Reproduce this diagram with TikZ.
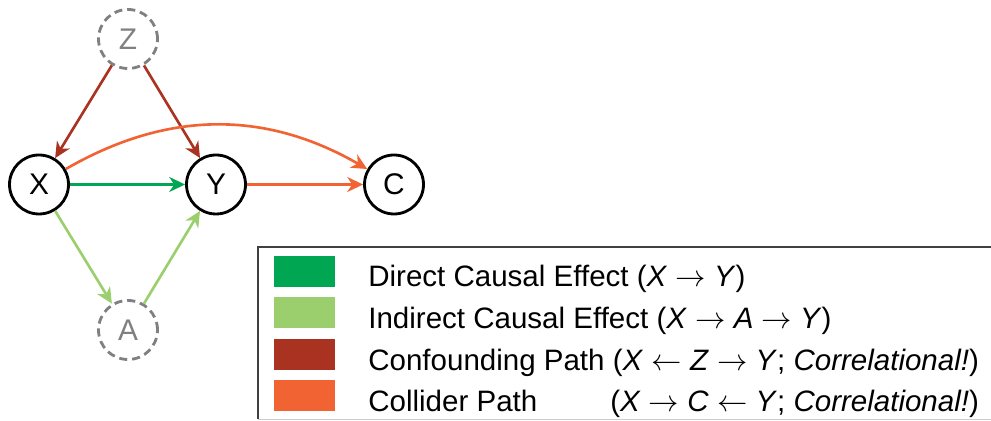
\documentclass[tikz,border=0pt]{standalone}
\usepackage{fontspec}
\setmainfont{Liberation Sans}
\usetikzlibrary{arrows.meta}

\definecolor{directgreen}{HTML}{00A651}
\definecolor{indirectgreen}{HTML}{9BCF6E}
\definecolor{confoundred}{HTML}{A93320}
\definecolor{colliderorange}{HTML}{F26334}

\begin{document}
\begin{tikzpicture}[x=0.02cm,y=0.02cm,
	var/.style={circle,draw,line width=1.6pt,minimum size=1.18cm,inner sep=0pt,
		font=\fontsize{17}{20}\selectfont},
	latent/.style={var,draw=gray,text=gray,dash pattern=on 4.6pt off 2.8pt},
	edge/.style={line width=1.5pt,-{Stealth[length=9pt,width=8.5pt,inset=2.8pt]}},
	swatch/.style={rectangle,minimum width=1.22cm,minimum height=0.62cm,inner sep=0pt},
	legtext/.style={anchor=base west,inner sep=0pt,font=\fontsize{16.8}{20}\selectfont}]

\useasboundingbox (0,0) rectangle (991,-421);

% variables
\node[var] (X) at (39,-184.5) {X};
\node[var] (Y) at (216,-184.5) {Y};
\node[var] (C) at (394,-184.5) {C};
\node[latent] (Z) at (128,-39) {Z};
\node[latent] (A) at (128,-330) {A};

% paths
\draw[edge,confoundred] (Z) -- (X);
\draw[edge,confoundred] (Z) -- (Y);
\draw[edge,directgreen] (X) -- (Y);
\draw[edge,indirectgreen] (X) -- (A);
\draw[edge,indirectgreen] (A) -- (Y);
\draw[edge,colliderorange] (Y) -- (C);
\draw[edge,colliderorange] (X) to[bend left=30] (C);

% legend
\draw[line width=0.7pt,black!75] (991,-247) -- (258,-247) -- (258,-419);
\draw[line width=0.5pt,black!20] (258,-419) -- (991,-419);

\node[swatch,fill=directgreen] (s1) at (304.5,-271.5) {};
\node[swatch,fill=indirectgreen] (s2) at (304.5,-312.5) {};
\node[swatch,fill=confoundred] (s3) at (304.5,-354.5) {};
\node[swatch,fill=colliderorange] (s4) at (304.5,-395.5) {};

\node[legtext] (t1) at (368,-287) {Direct Causal Effect (\textit{X} $\rightarrow$ \textit{Y})};
\node[legtext] (t2) at (368,-329) {Indirect Causal Effect (\textit{X} $\rightarrow$ \textit{A} $\rightarrow$ \textit{Y})};
\node[legtext] (t3) at (368,-371) {Confounding Path (\textit{X} $\leftarrow$ \textit{Z} $\rightarrow$ \textit{Y}; \textit{Correlational!})};
\node[legtext] (t4) at (368,-412) {Collider Path};
\node[legtext,anchor=base east] (t4b) at (t3.base east |- t4.base) {(\textit{X} $\rightarrow$ \textit{C} $\leftarrow$ \textit{Y}; \textit{Correlational!})};

\end{tikzpicture}
\end{document}
